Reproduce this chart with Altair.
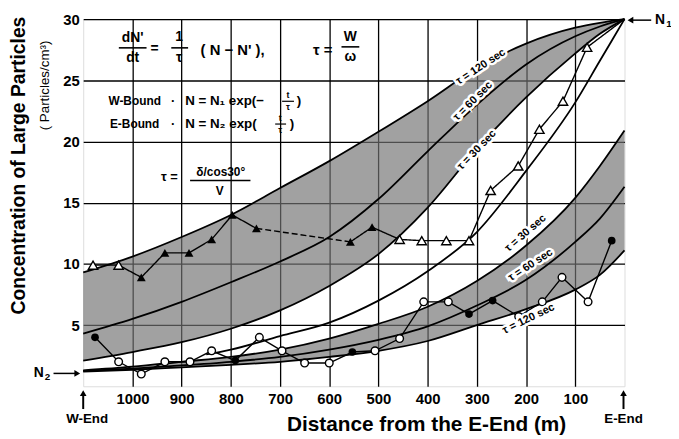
import altair as alt
import pandas as pd

# ---------------- values ----------------
dist_grid = [1100, 1000, 900, 800, 700, 600, 500, 400, 300, 200, 100, 50, 0]
# W-Bound curves  N = N1 exp(-t/tau)
w_bound_tau120 = [9.3, 10.6, 12.2, 14.0, 16.2, 18.4, 20.8, 23.3, 26.0, 28.0, 29.3, 29.7, 30.0]
w_bound_tau60 = [4.3, 5.5, 6.9, 8.5, 10.2, 12.2, 15.3, 19.2, 23.0, 26.3, 28.6, 29.4, 30.0]
w_bound_tau30 = [2.1, 2.8, 3.6, 4.7, 6.2, 8.2, 10.8, 14.6, 19.4, 23.6, 27.2, 28.8, 30.0]
# E-Bound curves  N = N2 exp(t/tau)
e_bound_tau30 = [1.3, 1.6, 2.0, 2.4, 3.0, 3.9, 5.1, 6.5, 8.6, 11.5, 15.4, 18.0, 20.9]
e_bound_tau60 = [1.25, 1.45, 1.7, 2.0, 2.4, 3.0, 3.8, 4.9, 6.6, 8.7, 11.8, 13.7, 16.3]
e_bound_tau120 = [1.2, 1.35, 1.55, 1.75, 2.0, 2.4, 2.9, 3.7, 5.0, 6.3, 7.9, 9.1, 11.1]
# steep curve in the white region, ending at N1
fast_dist = [850, 800, 700, 600, 500, 400, 300, 200, 100, 50, 0]
fast_val = [2.6, 3.0, 4.1, 5.2, 7.0, 9.4, 12.6, 17.6, 23.2, 26.6, 30.0]

# triangles (upper observed series)
tri_dist = [1080, 1028, 982, 934, 885, 839, 797, 748, 557, 513, 457, 412, 362, 316, 272, 216, 173, 125, 76, 0]
tri_val = [9.9, 9.9, 8.9, 10.9, 10.9, 12.0, 14.0, 12.9, 11.8, 13.0, 12.0, 11.9, 11.9, 11.9, 16.0, 18.0, 21.0, 23.3, 27.7, 30.0]
tri_kind = ["open", "open", "filled", "filled", "filled", "filled", "filled", "filled", "filled", "filled",
            "open", "open", "open", "open", "open", "open", "open", "open", "open", "none"]
tri_dashed_start = [748]

# circles (lower observed series)
circ_dist = [1076, 1028, 982, 934, 883, 839, 791, 742, 696, 650, 600, 553, 507, 457, 408, 358, 316, 268, 215, 167, 127, 74, 26]
circ_val = [4.0, 2.0, 1.0, 2.0, 2.0, 2.9, 2.1, 4.0, 2.9, 1.9, 1.9, 2.8, 2.9, 3.9, 6.9, 6.9, 5.9, 7.0, 5.7, 6.9, 8.9, 6.9, 11.9]
circ_kind = ["filled", "open", "open", "open", "open", "open", "filled", "open", "open", "open", "open", "filled",
             "open", "open", "open", "open", "filled", "filled", "open", "open", "open", "open", "filled"]

x_ticks = [1000, 900, 800, 700, 600, 500, 400, 300, 200, 100]
y_ticks = [5, 10, 15, 20, 25, 30]

curve_labels = ["τ = 120 sec", "τ = 60 sec", "τ = 30 sec", "τ = 30 sec", "τ = 60 sec", "τ = 120 sec"]
curve_label_dist = [292, 308, 300, 201, 191, 195]
curve_label_val = [26.1, 23.3, 19.3, 12.5, 9.9, 5.5]
curve_label_angle = [327, 315, 314, 319, 327, 334]

# ---------------- tables ----------------
bands = pd.concat([
    pd.DataFrame({"dist": dist_grid, "lo": w_bound_tau30, "hi": w_bound_tau120, "band": "W"}),
    pd.DataFrame({"dist": dist_grid, "lo": e_bound_tau120, "hi": e_bound_tau30, "band": "E"}),
])
curve_sets = {"w120": w_bound_tau120, "w60": w_bound_tau60, "w30": w_bound_tau30,
              "e30": e_bound_tau30, "e60": e_bound_tau60, "e120": e_bound_tau120}
curves = pd.concat([pd.DataFrame({"dist": dist_grid, "val": v, "curve": k}) for k, v in curve_sets.items()]
                   + [pd.DataFrame({"dist": fast_dist, "val": fast_val, "curve": "fast"})])

seg_rows = []
for i in range(len(tri_dist) - 1):
    style = "dashed" if tri_dist[i] in tri_dashed_start else "solid"
    seg_rows.append({"dist": tri_dist[i], "val": tri_val[i], "seg": i, "style": style})
    seg_rows.append({"dist": tri_dist[i + 1], "val": tri_val[i + 1], "seg": i, "style": style})
tri_segs = pd.DataFrame(seg_rows)
tri = pd.DataFrame({"dist": tri_dist, "val": tri_val, "kind": tri_kind})
circ = pd.DataFrame({"dist": circ_dist, "val": circ_val, "kind": circ_kind})
labels = pd.DataFrame({"dist": curve_label_dist, "val": curve_label_val, "text": curve_labels,
                       "angle": curve_label_angle})

FONT = "Liberation Sans"
X = alt.X("dist:Q", scale=alt.Scale(domain=[1100, 0], nice=False, zero=False),
          axis=alt.Axis(values=x_ticks, format="d", title=None, grid=True, ticks=False, domain=False,
                        gridColor="black", gridWidth=1.3, gridOpacity=1, labelFont=FONT, labelFontSize=15,
                        labelFontWeight="bold", labelColor="black", labelPadding=5))
Y = alt.Y("val:Q", scale=alt.Scale(domain=[0, 30], nice=False),
          axis=alt.Axis(values=y_ticks, title=None, grid=True, ticks=False, domain=False,
                        gridColor="black", gridWidth=1.3, gridOpacity=1, labelFont=FONT, labelFontSize=15,
                        labelFontWeight="bold", labelColor="black", labelPadding=4))

band_layer = alt.Chart(bands).mark_area(color="#737373", opacity=0.67, interpolate="monotone").encode(
    x=X, y=alt.Y("lo:Q", scale=alt.Scale(domain=[0, 30], nice=False)), y2="hi:Q", detail="band:N")
curve_layer = alt.Chart(curves).mark_line(color="black", strokeWidth=1.8, interpolate="monotone").encode(
    x=X, y=Y, detail="curve:N")

tri_line = alt.Chart(tri_segs).mark_line(color="black", strokeWidth=1.4).encode(
    x=X, y=Y, detail="seg:N",
    strokeDash=alt.StrokeDash("style:N", scale=alt.Scale(domain=["solid", "dashed"], range=[[1, 0], [6, 3]]),
                              legend=None))
circ_line = alt.Chart(circ).mark_line(color="black", strokeWidth=1.4).encode(x=X, y=Y)

tri_open = alt.Chart(tri).transform_filter("datum.kind == 'open'").mark_point(
    shape="triangle-up", filled=True, fill="white", stroke="black", strokeWidth=1.4, size=90, opacity=1).encode(x=X, y=Y)
tri_fill = alt.Chart(tri).transform_filter("datum.kind == 'filled'").mark_point(
    shape="triangle-up", filled=True, color="black", size=80, opacity=1).encode(x=X, y=Y)
circ_open = alt.Chart(circ).transform_filter("datum.kind == 'open'").mark_point(
    shape="circle", filled=True, fill="white", stroke="black", strokeWidth=1.4, size=60, opacity=1).encode(x=X, y=Y)
circ_fill = alt.Chart(circ).transform_filter("datum.kind == 'filled'").mark_point(
    shape="circle", filled=True, color="black", size=60, opacity=1).encode(x=X, y=Y)

label_halo = alt.Chart(labels).mark_text(font=FONT, fontWeight="bold", fontSize=11, stroke="white",
                                         strokeWidth=5, color="white").encode(
    x=X, y=Y, text="text:N", angle=alt.Angle("angle:Q", scale=None, legend=None))
label_text = alt.Chart(labels).mark_text(font=FONT, fontWeight="bold", fontSize=11, color="black").encode(
    x=X, y=Y, text="text:N", angle=alt.Angle("angle:Q", scale=None, legend=None))


# ---------------- annotations (pixel positions relative to plot origin) ----------------
def text_layer(rows, weight="bold", align="center", font=FONT):
    df = pd.DataFrame(rows, columns=["px", "py", "text", "size", "angle"])
    return alt.Chart(df).mark_text(font=font, fontWeight=weight, align=align, baseline="middle",
                                   color="black").encode(
        x=alt.X("px:Q", scale=None, axis=None),
        y=alt.Y("py:Q", scale=None, axis=None),
        text="text:N",
        size=alt.Size("size:Q", scale=None, legend=None),
        angle=alt.Angle("angle:Q", scale=None, legend=None))


bold_center = text_layer([
    (50, 19, "dN'", 14, 0), (50, 39, "dt", 14, 0), (72, 30, "=", 14, 0),
    (97, 18, "1", 14, 0), (97, 39, "τ", 14, 0), (151, 31, "( N − N' ),", 15, 0),
    (242, 31, "τ =", 15, 0), (270, 18, "W", 14, 0), (270, 38, "ω", 14, 0),
    (52, 83, "W-Bound", 12, 0), (91, 83, "·", 13, 0), (207, 77, "t", 9, 0), (207, 89, "τ", 9, 0),
    (218, 83, ")", 13.5, 0),
    (52, 106, "E-Bound", 12, 0), (91, 106, "·", 13, 0), (199, 100, "t", 9, 0), (199, 112, "τ", 9, 0),
    (211, 106, ")", 13.5, 0),
    (87, 160, "τ =", 13, 0), (139, 155, "δ/cos30°", 12, 0), (138, 174, "V", 12, 0),
    (-65, 148, "Concentration of Large Particles", 19.5, 270),
    (347, 410, "Distance from the E-End  (m)", 21, 0),
    (4, 404, "W-End", 13.5, 0), (546, 404, "E-End", 13.5, 0),
    (-45, 358, "N", 14, 0), (-36, 362, "2", 10, 0),
    (583, 1, "N", 14, 0), (592, 5, "1", 10, 0),
])
bold_left = text_layer([
    (103, 83, "N = N₁ exp(−", 13.5, 0),
    (103, 106, "N = N₂ exp(", 13.5, 0),
], align="left")
regular_center = text_layer([(-39, 67, "( Particles/cm³)", 13.5, 270)], weight="normal")


def hrule(x1, x2, y, w=1.6):
    return alt.Chart(pd.DataFrame({"k": [0]})).mark_rule(color="black", strokeWidth=w).encode(
        x=alt.value(x1), x2=alt.value(x2), y=alt.value(y))


def vrule(x, y1, y2, w=2):
    return alt.Chart(pd.DataFrame({"k": [0]})).mark_rule(color="black", strokeWidth=w).encode(
        x=alt.value(x), y=alt.value(y1), y2=alt.value(y2))


def head(x, y, shape):
    return alt.Chart(pd.DataFrame({"k": [0]})).mark_point(shape=shape, filled=True, color="black", size=45,
                                                          opacity=1).encode(x=alt.value(x), y=alt.value(y))


decor = [
    hrule(36, 64, 29), hrule(89, 106, 29), hrule(261, 279, 28),
    hrule(201, 213, 83, 1.2), hrule(194, 205, 106, 1.2), hrule(108, 169, 163, 1.4),
    hrule(-30, -8, 358, 1.5), head(-6, 358, "triangle-right"),
    hrule(555, 574, 1, 1.5), head(553, 1, "triangle-left"),
    vrule(0, 380, 394), head(0, 378, "triangle-up"),
    vrule(546, 380, 394), head(546, 378, "triangle-up"),
]

chart = alt.layer(
    band_layer, curve_layer, tri_line, circ_line, tri_open, tri_fill, circ_open, circ_fill,
    label_halo, label_text, bold_center, bold_left, regular_center, *decor
).properties(
    width=547, height=371,
    autosize=alt.AutoSizeParams(type="none"),
    padding={"left": 76, "top": 9, "right": 47, "bottom": 50},
).configure_view(stroke="black", strokeWidth=1.5).configure(background="white")

chart.save("out.html", embed_options={"renderer": "svg", "actions": False})
